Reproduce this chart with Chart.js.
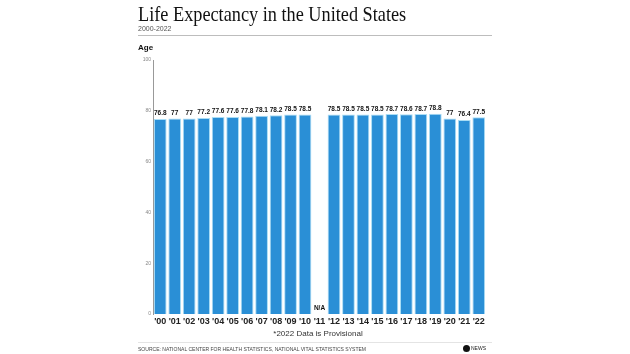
<!DOCTYPE html>
<html>
<head>
<meta charset="utf-8">
<script src="https://cdn.jsdelivr.net/npm/chart.js@4.4.1/dist/chart.umd.min.js"></script>
<style>
  body { margin: 0; background: #fff; width: 630px; height: 354px; overflow: hidden; position: relative; font-family: "Liberation Sans", Arial, sans-serif; }
  #wrap { position: absolute; left: 0; top: 0; width: 630px; height: 354px; }
  .txt { position: absolute; white-space: nowrap; }
  #title { left: 138px; top: 1px; font-family: "Liberation Serif", "DejaVu Serif", serif; font-size: 22px; color: #111; transform: scaleX(0.83); transform-origin: left top; }
  #sub { left: 138px; top: 25px; font-size: 7px; color: #555; }
  #rule { position: absolute; left: 138px; top: 35px; width: 354px; height: 1px; background: #bdbdbd; }
  #age { left: 138px; top: 43px; font-size: 8px; font-weight: bold; color: #111; }
  #note { left: 0; width: 636px; text-align: center; top: 329px; font-size: 8px; color: #333; }
  #rule2 { position: absolute; left: 138px; top: 342px; width: 354px; height: 1px; background: #e4e4e4; }
  #src { left: 138px; top: 346px; font-size: 6px; color: #444; transform: scaleX(0.84); transform-origin: left top; }
  #logo { left: 463px; top: 345px; font-size: 5px; color: #222; }
  #logo span { display: inline-block; width: 7px; height: 7px; border-radius: 50%; background: #111; vertical-align: middle; margin-right: 1px; }
</style>
</head>
<body>
<div id="wrap"><canvas id="chart" width="630" height="354"></canvas></div>
<div class="txt" id="title">Life Expectancy in the United States</div>
<div class="txt" id="sub">2000-2022</div>
<div id="rule"></div>
<div class="txt" id="age">Age</div>
<div class="txt" id="note">*2022 Data is Provisional</div>
<div id="rule2"></div>
<div class="txt" id="src">SOURCE: NATIONAL CENTER FOR HEALTH STATISTICS, NATIONAL VITAL STATISTICS SYSTEM</div>
<div class="txt" id="logo"><span></span>NEWS</div>
<script>
// data
var years = ["'00", "'01", "'02", "'03", "'04", "'05", "'06", "'07", "'08", "'09", "'10", "'11",
             "'12", "'13", "'14", "'15", "'16", "'17", "'18", "'19", "'20", "'21", "'22"];
var lifeExp = [76.8, 77, 77, 77.2, 77.6, 77.6, 77.8, 78.1, 78.2, 78.5, 78.5, null,
               78.5, 78.5, 78.5, 78.5, 78.7, 78.6, 78.7, 78.8, 77, 76.4, 77.5];
var yTicks = [0, 20, 40, 60, 80, 100];

// labels on top of bars, N/A for missing year
var barLabels = {
  id: 'barLabels',
  afterDatasetsDraw: function(chart) {
    var ctx = chart.ctx;
    var meta = chart.getDatasetMeta(0);
    var yScale = chart.scales.y;
    ctx.save();
    ctx.font = 'bold 6.5px "Liberation Sans", Arial, sans-serif';
    ctx.fillStyle = '#111';
    ctx.textAlign = 'center';
    ctx.textBaseline = 'bottom';
    meta.data.forEach(function(bar, i) {
      var v = lifeExp[i];
      if (v === null) {
        ctx.fillText('N/A', chart.scales.x.getPixelForValue(i), yScale.getPixelForValue(0) - 3);
      } else {
        ctx.fillText(String(v), bar.x, bar.y - 2);
      }
    });
    ctx.restore();
  }
};

var ctx = document.getElementById('chart').getContext('2d');
var chart = new Chart(ctx, {
  type: 'bar',
  data: {
    labels: years,
    datasets: [{
      data: lifeExp,
      backgroundColor: '#2a8fd6',
      borderColor: '#a9ddf5',
      borderWidth: 1,
      barPercentage: 0.88,
      categoryPercentage: 1
    }]
  },
  options: {
    responsive: false,
    animation: false,
    layout: { padding: { left: 138, right: 144, top: 60, bottom: 26 } },
    plugins: { legend: { display: false }, tooltip: { enabled: false } },
    scales: {
      x: {
        grid: { display: false, drawTicks: false },
        border: { display: false },
        ticks: { color: '#222', font: { size: 9, weight: 'bold', family: '"Liberation Sans", Arial, sans-serif' }, padding: 2, maxRotation: 0, autoSkip: false },
        afterFit: function(s) { s.height = 14; }
      },
      y: {
        min: 0, max: 100,
        afterBuildTicks: function(s) { s.ticks = yTicks.map(function(v) { return { value: v }; }); },
        grid: { display: false, drawTicks: false },
        border: { display: true, color: '#999', width: 1 },
        ticks: { color: '#888', font: { size: 5, family: '"Liberation Sans", Arial, sans-serif' }, padding: 2 },
        afterFit: function(s) { s.width = 15; }
      }
    }
  },
  plugins: [barLabels]
});
</script>
</body>
</html>
